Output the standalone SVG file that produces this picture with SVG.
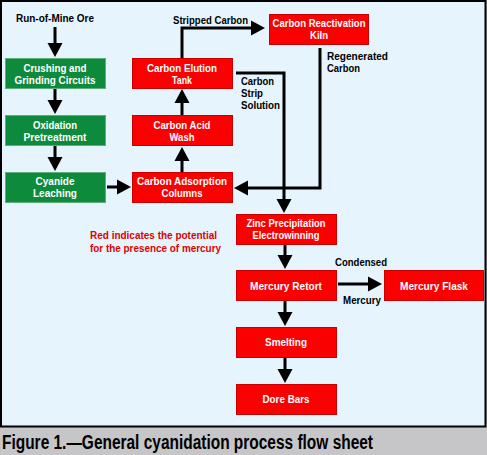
<svg xmlns="http://www.w3.org/2000/svg" width="487" height="455" viewBox="0 0 487 455">
<defs>
<style>
.bg{fill:#e6f4fd}
.green{fill:#0e8a3c;stroke:#5fae7a;stroke-width:1}
.red{fill:#fb0000;stroke:#c80000;stroke-width:1}
.bt{font-family:"Liberation Sans",Arial,sans-serif;font-weight:bold;font-size:11px;fill:#ffffff;text-anchor:middle}
.lbl{font-family:"Liberation Sans",Arial,sans-serif;font-weight:bold;font-size:11px;fill:#000000}
.note{font-family:"Liberation Sans",Arial,sans-serif;font-weight:bold;font-size:11px;fill:#e00000}
.conn{fill:none;stroke:#000;stroke-width:3;marker-end:url(#ah)}
</style>
<marker id="ah" markerUnits="userSpaceOnUse" markerWidth="15" markerHeight="16" refX="0" refY="8" orient="auto" overflow="visible">
<path d="M0,0.5 L14,8 L0,15.5 z" fill="#000"/>
</marker>
</defs>
<rect x="0" y="0" width="487" height="455" fill="#c6c5c7"/>
<rect class="bg" x="1" y="1" width="484.5" height="425.5" stroke="#000" stroke-width="2"/>
<text x="2" y="449" font-family="'Liberation Sans',Arial,sans-serif" font-size="20" font-weight="bold" fill="#000" textLength="371" lengthAdjust="spacingAndGlyphs">Figure 1.—General cyanidation process flow sheet</text>

<text class="lbl" x="16" y="22" textLength="78" lengthAdjust="spacingAndGlyphs">Run-of-Mine Ore</text>
<text class="lbl" x="173" y="24" textLength="75" lengthAdjust="spacingAndGlyphs">Stripped Carbon</text>
<text class="lbl" x="327" y="60" textLength="61" lengthAdjust="spacingAndGlyphs">Regenerated</text>
<text class="lbl" x="327" y="72" textLength="33" lengthAdjust="spacingAndGlyphs">Carbon</text>
<text class="lbl" x="241" y="85" textLength="33" lengthAdjust="spacingAndGlyphs">Carbon</text>
<text class="lbl" x="241" y="97" textLength="22" lengthAdjust="spacingAndGlyphs">Strip</text>
<text class="lbl" x="241" y="109" textLength="39" lengthAdjust="spacingAndGlyphs">Solution</text>
<text class="lbl" x="335" y="266" textLength="52" lengthAdjust="spacingAndGlyphs">Condensed</text>
<text class="lbl" x="343" y="304" textLength="38" lengthAdjust="spacingAndGlyphs">Mercury</text>
<text class="note" x="90" y="239" textLength="127" lengthAdjust="spacingAndGlyphs">Red indicates the potential</text>
<text class="note" x="90" y="252" textLength="131" lengthAdjust="spacingAndGlyphs">for the presence of mercury</text>

<g id="connectors">
<path class="conn" d="M55,27 V43"/>
<path class="conn" d="M55,88 V100"/>
<path class="conn" d="M55,146 V157"/>
<path class="conn" d="M107,187 H117"/>
<path class="conn" d="M182,172 V161"/>
<path class="conn" d="M182,115 V103"/>
<path class="conn" d="M182,58 V28 H251"/>
<path class="conn" d="M236,73 H284 V199"/>
<path class="conn" d="M320,48 V188 H248"/>
<path class="conn" d="M285,244 V255"/>
<path class="conn" d="M338,284 H368"/>
<path class="conn" d="M285,300 V312"/>
<path class="conn" d="M285,357 V369"/>
</g>

<g id="crushing">
<rect class="green" x="5.5" y="58.5" width="100" height="30"/>
<text class="bt" x="55" y="72" textLength="63" lengthAdjust="spacingAndGlyphs">Crushing and</text>
<text class="bt" x="55" y="84" textLength="81" lengthAdjust="spacingAndGlyphs">Grinding Circuits</text>
</g>
<g id="oxidation">
<rect class="green" x="5.5" y="115.5" width="100" height="30"/>
<text class="bt" x="55" y="129" textLength="44" lengthAdjust="spacingAndGlyphs">Oxidation</text>
<text class="bt" x="55" y="141" textLength="63" lengthAdjust="spacingAndGlyphs">Pretreatment</text>
</g>
<g id="cyanide">
<rect class="green" x="5.5" y="172.5" width="100" height="30"/>
<text class="bt" x="55" y="185" textLength="39" lengthAdjust="spacingAndGlyphs">Cyanide</text>
<text class="bt" x="55" y="197" textLength="44" lengthAdjust="spacingAndGlyphs">Leaching</text>
</g>
<g id="elution">
<rect class="red" x="132.5" y="58.5" width="100" height="30"/>
<text class="bt" x="182" y="72" textLength="70" lengthAdjust="spacingAndGlyphs">Carbon Elution</text>
<text class="bt" x="182" y="84" textLength="20" lengthAdjust="spacingAndGlyphs">Tank</text>
</g>
<g id="acidwash">
<rect class="red" x="132.5" y="115.5" width="100" height="30"/>
<text class="bt" x="182" y="129" textLength="57" lengthAdjust="spacingAndGlyphs">Carbon Acid</text>
<text class="bt" x="182" y="141" textLength="25" lengthAdjust="spacingAndGlyphs">Wash</text>
</g>
<g id="adsorption">
<rect class="red" x="132.5" y="172.5" width="100" height="30"/>
<text class="bt" x="182" y="185" textLength="90" lengthAdjust="spacingAndGlyphs">Carbon Adsorption</text>
<text class="bt" x="182" y="197" textLength="41" lengthAdjust="spacingAndGlyphs">Columns</text>
</g>
<g id="kiln">
<rect class="red" x="269.5" y="14.5" width="99" height="30"/>
<text class="bt" x="319" y="27" textLength="93" lengthAdjust="spacingAndGlyphs">Carbon Reactivation</text>
<text class="bt" x="319" y="39" textLength="18" lengthAdjust="spacingAndGlyphs">Kiln</text>
</g>
<g id="zinc">
<rect class="red" x="236.5" y="214.5" width="100" height="30"/>
<text class="bt" x="286" y="227" textLength="79" lengthAdjust="spacingAndGlyphs">Zinc Precipitation</text>
<text class="bt" x="286" y="239" textLength="67" lengthAdjust="spacingAndGlyphs">Electrowinning</text>
</g>
<g id="retort">
<rect class="red" x="236.5" y="270.5" width="100" height="30"/>
<text class="bt" x="286" y="290" textLength="72" lengthAdjust="spacingAndGlyphs">Mercury Retort</text>
</g>
<g id="flask">
<rect class="red" x="384.5" y="270.5" width="99" height="30"/>
<text class="bt" x="434" y="290" textLength="68" lengthAdjust="spacingAndGlyphs">Mercury Flask</text>
</g>
<g id="smelting">
<rect class="red" x="236.5" y="327.5" width="100" height="30"/>
<text class="bt" x="286" y="346" textLength="42" lengthAdjust="spacingAndGlyphs">Smelting</text>
</g>
<g id="dore">
<rect class="red" x="236.5" y="384.5" width="100" height="30"/>
<text class="bt" x="286" y="403" textLength="47" lengthAdjust="spacingAndGlyphs">Dore Bars</text>
</g>
</svg>
